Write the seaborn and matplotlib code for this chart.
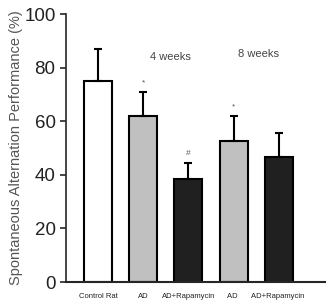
import matplotlib
matplotlib.use("Agg")
import matplotlib.pyplot as plt
import pandas as pd
import seaborn as sns

groups = ["Control Rat", "AD", "AD+Rapamycin", "AD ", "AD+Rapamycin "]
means = [75, 62, 38.5, 52.5, 46.5]
errs = [12, 9, 6, 9.5, 9]
colors = ["#ffffff", "#c0c0c0", "#202020", "#c0c0c0", "#202020"]
marks = ["", "*", "#", "*", ""]

sns.set_style("ticks")
plt.rcParams['font.family'] = ['Liberation Sans', 'DejaVu Sans']

df = pd.DataFrame({"group": groups, "value": means})

fig = plt.figure(figsize=(3.28, 3.01), dpi=100)
ax = fig.add_axes([0.201, 0.063, 0.790, 0.890])

sns.barplot(data=df, x="group", y="value", hue="group", palette=colors,
            edgecolor="black", linewidth=1.5, width=0.62, legend=False, ax=ax)
ax.errorbar(range(len(groups)), means, yerr=[[0] * len(errs), errs], fmt="none",
            ecolor="black", elinewidth=1.5, capsize=3, capthick=1.5)

for i, m in enumerate(marks):
    if m:
        ax.text(i, means[i] + errs[i] + 2, m, ha="center", va="bottom",
                fontsize=6, color="#555555")

ax.text(1.6, 84, "4 weeks", ha="center", va="center", fontsize=8, color="#444444")
ax.text(3.55, 85, "8 weeks", ha="center", va="center", fontsize=8, color="#444444")

ax.set_xlim(-0.71, 5.02)
ax.set_ylim(0, 100)
ax.set_yticks([0, 20, 40, 60, 80, 100])
ax.tick_params(axis="y", labelsize=13.5, labelcolor="#222222", length=4, width=1.2)
ax.tick_params(axis="x", labelsize=5.5, length=0, pad=8, labelcolor="#222222")
ax.set_xlabel("")
ax.set_ylabel("Spontaneous Alternation Performance (%)", fontsize=10.5,
              color="#555555", labelpad=1)
sns.despine(ax=ax)
ax.spines["left"].set_linewidth(1.2)
ax.spines["bottom"].set_linewidth(1.5)

fig.savefig("out.png", dpi=100)
